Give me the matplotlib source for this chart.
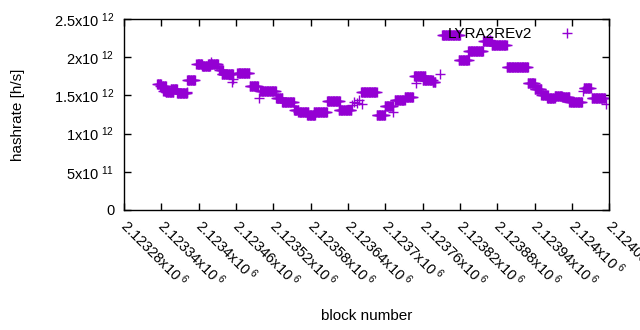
import numpy as np
import matplotlib
matplotlib.use("Agg")
import matplotlib.pyplot as plt
from matplotlib.ticker import FixedLocator, FuncFormatter
from matplotlib.transforms import ScaledTranslation

plt.rcParams['font.family'] = ['Liberation Sans', 'DejaVu Sans']
plt.rcParams['mathtext.default'] = 'regular'

# runs of blocks that share one hashrate value (start block, end block, hashrate in 1e12 h/s)
run_start = [2123333, 2123338, 2123343, 2123347, 2123355, 2123365, 2123381, 2123396,
             2123405, 2123415, 2123433, 2123437, 2123462, 2123482, 2123498, 2123524,
             2123534, 2123553, 2123560, 2123574, 2123585, 2123606, 2123625, 2123661,
             2123686, 2123699, 2123715, 2123731, 2123746, 2123760, 2123776, 2123791,
             2123818, 2123833, 2123857, 2123871, 2123895, 2123929, 2123940, 2123951,
             2123960, 2123972, 2123984, 2123996, 2124019, 2124032]
run_end = [2123339, 2123347, 2123352, 2123359, 2123365, 2123381, 2123394, 2123405,
           2123418, 2123431, 2123439, 2123455, 2123481, 2123495, 2123524, 2123534,
           2123553, 2123560, 2123576, 2123587, 2123606, 2123627, 2123645, 2123686,
           2123699, 2123712, 2123731, 2123744, 2123764, 2123776, 2123780, 2123820,
           2123834, 2123857, 2123871, 2123895, 2123929, 2123940, 2123951, 2123961,
           2123972, 2123984, 2123996, 2124016, 2124030, 2124053]
run_rate = [1.65, 1.62, 1.56, 1.55, 1.58, 1.53, 1.70, 1.91,
            1.88, 1.91, 1.83, 1.78, 1.79, 1.62, 1.56, 1.47,
            1.41, 1.31, 1.28, 1.25, 1.28, 1.43, 1.31, 1.54,
            1.25, 1.36, 1.44, 1.48, 1.76, 1.70, 1.68, 2.29,
            1.97, 2.08, 2.21, 2.16, 1.87, 1.66, 1.58, 1.51,
            1.47, 1.49, 1.48, 1.41, 1.60, 1.47]

# single blocks off the runs
single_block = [2123381, 2123420, 2123454, 2123455, 2123497, 2123646, 2123650, 2123655,
                2123658, 2123662, 2123712, 2123749, 2123788, 2123868, 2124017, 2124054]
single_rate = [1.55, 1.94, 1.68, 1.71, 1.47, 1.38, 1.42, 1.40,
               1.44, 1.39, 1.28, 1.66, 1.78, 2.23, 1.56, 1.39]

xticks = [2123280 + 60 * i for i in range(14)]
yticks = [0, 0.5e12, 1e12, 1.5e12, 2e12, 2.5e12]

color = '#9400D3'

fig = plt.figure(figsize=(6.4, 3.3), dpi=100)
ax = fig.add_axes([0.194, 0.364, 0.758, 0.578])

# every block in a run gets its own point
for s, e, r in zip(run_start, run_end, run_rate):
    blocks = np.arange(s, e + 1)
    ax.plot(blocks, np.full(len(blocks), r * 1e12), '+', color=color, ms=6.5, mew=1.0)
ax.plot(single_block, np.array(single_rate) * 1e12, '+', color=color, ms=6.5, mew=1.0,
        label='LYRA2REv2')

ax.set_xlim(xticks[0], xticks[-1])
ax.set_ylim(0, 2.5e12)
ax.xaxis.set_major_locator(FixedLocator(xticks))
ax.yaxis.set_major_locator(FixedLocator(yticks))


def xfmt(v, pos):
    return '%gx10$^{\\ 6}$' % (v / 1e6)


def yfmt(v, pos):
    if v == 0:
        return '0'
    exp = int(np.floor(np.log10(v)))
    return '%gx10$^{\\ %d}$' % (v / 10 ** exp, exp)


ax.xaxis.set_major_formatter(FuncFormatter(xfmt))
ax.yaxis.set_major_formatter(FuncFormatter(yfmt))
ax.tick_params(direction='in', length=5, width=1, top=True, right=True,
               labelsize=10.5, colors='black', pad=7)
ax.tick_params(axis='x', pad=4)
shift = ScaledTranslation(6 / 100, 0, fig.dpi_scale_trans)
for lab in ax.get_xticklabels():
    lab.set_rotation(-45)
    lab.set_ha('left')
    lab.set_va('top')
    lab.set_rotation_mode('anchor')
    lab.set_transform(lab.get_transform() + shift)

for sp in ax.spines.values():
    sp.set_linewidth(1)

ax.set_xlabel('block number', fontsize=11)
ax.set_ylabel('hashrate [h/s]', fontsize=11)
ax.xaxis.set_label_coords(0.5, -0.52)
ax.yaxis.set_label_coords(-0.205, 0.5)

ax.legend(loc='upper right', bbox_to_anchor=(0.98, 1.03), frameon=False,
          markerfirst=False, handlelength=2.5, handletextpad=1.0, fontsize=11)

fig.savefig('out.png', dpi=100)
